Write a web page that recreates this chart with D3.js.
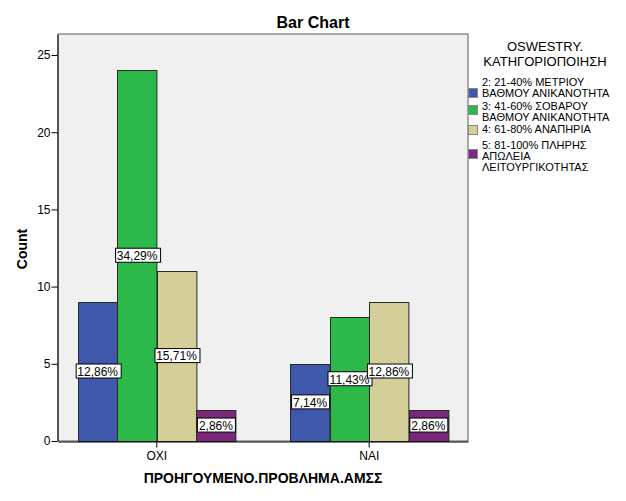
<!DOCTYPE html>
<html>
<head>
<meta charset="utf-8">
<script src="https://cdn.jsdelivr.net/npm/d3@7"></script>
<style>
  body { margin: 0; background: #fff; }
  text { font-family: Arial, "Liberation Sans", sans-serif; }
</style>
</head>
<body>
<div id="chart"></div>
<script>
// categories on the x axis
const groups = ["ΟΧΙ", "ΝΑΙ"]
// legend series
const series = [
  "2: 21-40% ΜΕΤΡΙΟΥ ΒΑΘΜΟΥ ΑΝΙΚΑΝΟΤΗΤΑ",
  "3: 41-60% ΣΟΒΑΡΟΥ ΒΑΘΜΟΥ ΑΝΙΚΑΝΟΤΗΤΑ",
  "4: 61-80% ΑΝΑΠΗΡΙΑ",
  "5: 81-100% ΠΛΗΡΗΣ ΑΠΩΛΕΙΑ ΛΕΙΤΟΥΡΓΙΚΟΤΗΤΑΣ"
]
// legend text broken on lines like the original
const legendLines = [
  ["2: 21-40% ΜΕΤΡΙΟΥ", "ΒΑΘΜΟΥ ΑΝΙΚΑΝΟΤΗΤΑ"],
  ["3: 41-60% ΣΟΒΑΡΟΥ", "ΒΑΘΜΟΥ ΑΝΙΚΑΝΟΤΗΤΑ"],
  ["4: 61-80% ΑΝΑΠΗΡΙΑ"],
  ["5: 81-100% ΠΛΗΡΗΣ", "ΑΠΩΛΕΙΑ", "ΛΕΙΤΟΥΡΓΙΚΟΤΗΤΑΣ"]
]
const colors = ["#3e58ab", "#2db84a", "#d4ce98", "#7a287b"]
// counts per group, one value per series
const countsOXI = [9, 24, 11, 2]
const countsNAI = [5, 8, 9, 2]
// percentage labels (of total 70)
const pctOXI = ["12,86%", "34,29%", "15,71%", "2,86%"]
const pctNAI = ["7,14%", "11,43%", "12,86%", "2,86%"]
const yTicks = [0, 5, 10, 15, 20, 25]

const width = 626
const height = 501
const plot = { left: 58, right: 468, top: 34, bottom: 441 }

const data = []
groups.forEach((g, gi) => {
  const counts = gi === 0 ? countsOXI : countsNAI
  const pcts = gi === 0 ? pctOXI : pctNAI
  counts.forEach((v, si) => {
    data.push({ group: g, series: series[si], si, value: v, label: pcts[si] })
  })
})

const svg = d3
  .select("#chart")
  .append("svg")
  .attr("width", width)
  .attr("height", height)

const x0 = d3
  .scaleBand()
  .domain(groups)
  .range([plot.left, plot.right])
  .paddingInner(0.258)
  .paddingOuter(0.094)

const x1 = d3
  .scaleBand()
  .domain(series)
  .range([0, x0.bandwidth()])

const y = d3
  .scaleLinear()
  .domain([0, 26.36])
  .range([plot.bottom, plot.top])

// plot background
svg
  .append("rect")
  .attr("x", plot.left)
  .attr("y", plot.top)
  .attr("width", plot.right - plot.left)
  .attr("height", plot.bottom - plot.top)
  .attr("fill", "#f0f0f0")
  .attr("stroke", "#5a5a5a")
  .attr("stroke-width", 1)

// title
svg
  .append("text")
  .attr("x", 313)
  .attr("y", 28)
  .attr("text-anchor", "middle")
  .attr("font-size", "16px")
  .attr("font-weight", "bold")
  .text("Bar Chart")

// bars
svg
  .selectAll("rect.bar")
  .data(data)
  .enter()
  .append("rect")
  .attr("class", "bar")
  .attr("x", d => Math.round(x0(d.group) + x1(d.series)) + 0.5)
  .attr("y", d => Math.round(y(d.value)) + 0.5)
  .attr("width", x1.bandwidth())
  .attr("height", d => y(0) - Math.round(y(d.value)))
  .attr("fill", d => colors[d.si])
  .attr("stroke", "#2a2a2a")
  .attr("stroke-width", 1)

// label boxes
const labels = svg
  .selectAll("g.lbl")
  .data(data)
  .enter()
  .append("g")
  .attr("class", "lbl")
  .attr(
    "transform",
    d =>
      `translate(${x0(d.group) + x1(d.series) + x1.bandwidth() / 2}, ${y(d.value / 2)})`
  )

labels
  .append("text")
  .attr("text-anchor", "middle")
  .attr("dy", "0.36em")
  .attr("font-size", "12px")
  .attr("fill", "#000")
  .text(d => d.label)
  .each(function () {
    const bb = this.getBBox()
    d3.select(this.parentNode)
      .insert("rect", "text")
      .attr("x", Math.round(bb.x - 2) + 0.5)
      .attr("y", -7.5)
      .attr("width", Math.round(bb.width + 4))
      .attr("height", 14)
      .attr("fill", "#fff")
      .attr("stroke", "#000")
      .attr("stroke-width", 1)
  })

// y axis
const yAxis = d3.axisLeft(y).tickValues(yTicks).tickSize(6).tickSizeOuter(0)
const gy = svg
  .append("g")
  .attr("transform", `translate(${plot.left - 0.5}, 0)`)
  .call(yAxis)
gy.select(".domain").attr("stroke", "#000")
gy.selectAll(".tick line").attr("stroke", "#000")
gy.selectAll(".tick text")
  .attr("font-size", "12px")
  .attr("fill", "#000")
  .attr("font-family", "Arial, 'Liberation Sans', sans-serif")
  .attr("x", -7)

// x axis
const xAxis = d3.axisBottom(x0).tickSize(6).tickSizeOuter(0)
const gx = svg
  .append("g")
  .attr("transform", `translate(0, ${plot.bottom + 0.5})`)
  .call(xAxis)
gx.select(".domain").attr("stroke", "#000")
gx.selectAll(".tick line").attr("stroke", "#000")
gx.selectAll(".tick text")
  .attr("font-size", "12px")
  .attr("fill", "#000")
  .attr("font-family", "Arial, 'Liberation Sans', sans-serif")
  .attr("y", 10)

// axis titles
svg
  .append("text")
  .attr("transform", "translate(27, 249) rotate(-90)")
  .attr("text-anchor", "middle")
  .attr("font-size", "14px")
  .attr("font-weight", "bold")
  .text("Count")

svg
  .append("text")
  .attr("x", 263)
  .attr("y", 483)
  .attr("text-anchor", "middle")
  .attr("font-size", "14px")
  .attr("font-weight", "bold")
  .text("ΠΡΟΗΓΟΥΜΕΝΟ.ΠΡΟΒΛΗΜΑ.ΑΜΣΣ")

// legend
const legend = svg.append("g")
legend
  .append("text")
  .attr("x", 545)
  .attr("y", 51)
  .attr("text-anchor", "middle")
  .attr("font-size", "13px")
  .text("OSWESTRY.")
legend
  .append("text")
  .attr("x", 545)
  .attr("y", 66)
  .attr("text-anchor", "middle")
  .attr("font-size", "13px")
  .text("ΚΑΤΗΓΟΡΙΟΠΟΙΗΣΗ")

// first-line baseline and swatch top of each legend entry
const legendBase = [86, 110, 133, 149]
const swatchTop = [88, 105, 125, 149]
legendLines.forEach((lines, i) => {
  legend
    .append("rect")
    .attr("x", 468.5)
    .attr("y", swatchTop[i] + 0.5)
    .attr("width", 9)
    .attr("height", 9)
    .attr("fill", colors[i])
    .attr("stroke", "#888")
  lines.forEach((t, j) => {
    legend
      .append("text")
      .attr("x", 482)
      .attr("y", legendBase[i] + j * 11)
      .attr("font-size", "11px")
      .text(t)
  })
})
</script>
</body>
</html>
